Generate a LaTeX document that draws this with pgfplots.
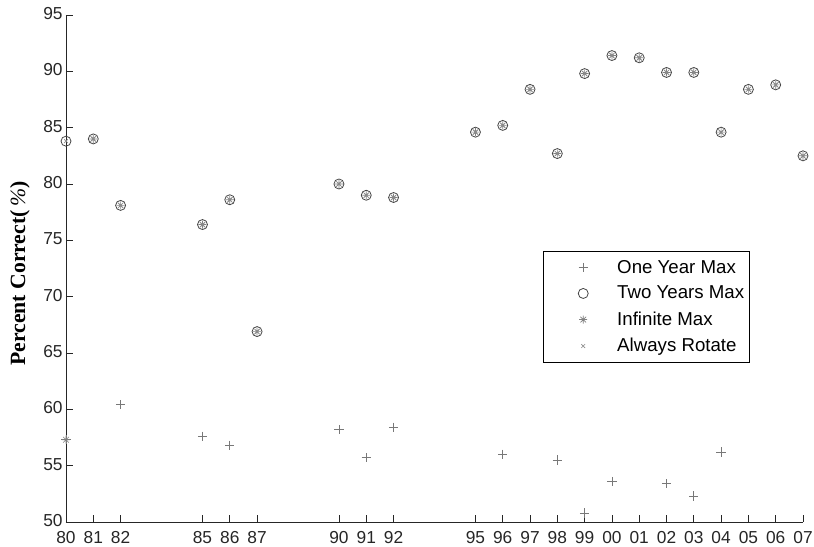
\documentclass[border=0pt]{standalone}
\usepackage{fontspec}
\setmainfont{Liberation Serif}
\setsansfont{Liberation Sans}
\usepackage{pgfplots}
\pgfplotsset{compat=1.18}
\usetikzlibrary{calc}

\definecolor{mkplus}{RGB}{120,120,120}
\definecolor{mkcirc}{RGB}{70,70,70}
\definecolor{mkstar}{RGB}{130,130,130}
\definecolor{mkx}{RGB}{140,140,140}

% MATLAB-style 8-arm asterisk
\pgfdeclareplotmark{ast8}{%
  \pgfpathmoveto{\pgfqpoint{-\pgfplotmarksize}{0pt}}\pgfpathlineto{\pgfqpoint{\pgfplotmarksize}{0pt}}%
  \pgfpathmoveto{\pgfqpoint{0pt}{-\pgfplotmarksize}}\pgfpathlineto{\pgfqpoint{0pt}{\pgfplotmarksize}}%
  \pgfpathmoveto{\pgfpointpolar{45}{\pgfplotmarksize}}\pgfpathlineto{\pgfpointpolar{225}{\pgfplotmarksize}}%
  \pgfpathmoveto{\pgfpointpolar{135}{\pgfplotmarksize}}\pgfpathlineto{\pgfpointpolar{315}{\pgfplotmarksize}}%
  \pgfusepathqstroke}

\pgfplotstableread{
year val
1980 83.8
1981 84.0
1982 78.1
1985 76.4
1986 78.6
1987 66.9
1990 80.0
1991 79.0
1992 78.8
1995 84.6
1996 85.2
1997 88.4
1998 82.7
1999 89.8
2000 91.4
2001 91.2
2002 89.9
2003 89.9
2004 84.6
2005 88.4
2006 88.8
2007 82.5
}\twoyears

\pgfplotstableread{
year val
1980 57.3
1981 84.0
1982 78.1
1985 76.4
1986 78.6
1987 66.9
1990 80.0
1991 79.0
1992 78.8
1995 84.6
1996 85.2
1997 88.4
1998 82.7
1999 89.8
2000 91.4
2001 91.2
2002 89.9
2003 89.9
2004 84.6
2005 88.4
2006 88.8
2007 82.5
}\infinite

\pgfplotstableread{
year val
1980 57.3
1982 60.4
1985 57.6
1986 56.8
1990 58.2
1991 55.7
1992 58.4
1996 56.0
1998 55.5
1999 50.8
2000 53.6
2002 53.4
2003 52.3
2004 56.2
}\oneyear

\begin{document}
\begin{tikzpicture}
\begin{axis}[
  scale only axis,
  width=552.75pt, height=380.25pt,
  xmin=1980, xmax=2007,
  ymin=50, ymax=95,
  axis lines*=left,
  axis line style={line width=0.6pt, black!85},
  tick align=inside,
  major tick length=5pt,
  tick style={line width=0.6pt, black!85},
  xtick={1980,1981,1982,1985,1986,1987,1990,1991,1992,1995,1996,1997,1998,1999,2000,2001,2002,2003,2004,2005,2006,2007},
  xticklabels={80,81,82,85,86,87,90,91,92,95,96,97,98,99,00,01,02,03,04,05,06,07},
  ytick={50,55,...,95},
  tick label style={font=\sffamily\fontsize{13}{15}\selectfont, text=black!85},
  /pgf/number format/assume math mode=true,
  xticklabel style={yshift=-3.5pt},
  yticklabel style={xshift=1pt, yshift=1pt},
  ylabel={\textbf{Percent Correct(}\,\textit{\%}\textbf{)}},
  ylabel style={at={(axis description cs:-0.0624,0.49)}, anchor=center,
                font=\fontsize{16.3}{18}\selectfont},
  clip=false,
  legend style={at={(0.647,0.5345)}, anchor=north west, draw=black, line width=0.6pt,
                fill=white, font=\sffamily\fontsize{14}{16}\selectfont,
                inner xsep=2.25pt, inner ysep=5pt, row sep=5.2pt,
                nodes={inner sep=1.5pt},
                /tikz/every odd column/.append style={column sep=0pt},
                /tikz/every even column/.append style={column sep=3pt}},
  legend cell align=left,
  legend image code/.code={\path[draw=none] (0pt,0pt) -- (51.75pt,0pt);
                           \draw[#1] plot coordinates {(27.75pt,0pt)};},
]
\coordinate (O) at (rel axis cs:0,0);
\coordinate (T) at (rel axis cs:1,1);

\addplot[only marks, mark=+, mark size=3.5pt, color=mkplus, line width=0.5pt]
  table[x=year, y=val] {\oneyear};
\addlegendentry{One Year Max}

\addplot[only marks, mark=o, mark size=3.75pt, color=mkcirc, line width=0.6pt]
  table[x=year, y=val] {\twoyears};
\addlegendentry{Two Years Max}

\addplot[only marks, mark=ast8, mark size=3pt, color=mkstar, line width=0.5pt]
  table[x=year, y=val] {\infinite};
\addlegendentry{Infinite Max}

\addplot[only marks, mark=x, mark size=2pt, color=mkx, line width=0.5pt]
  table[x=year, y=val] {\twoyears};
\addlegendentry{Always Rotate}
\end{axis}
\pgfresetboundingbox
\path ($(O)+(-49.5pt,-18.75pt)$) rectangle ($(T)+(8.25pt,11.25pt)$);
\end{tikzpicture}
\end{document}
